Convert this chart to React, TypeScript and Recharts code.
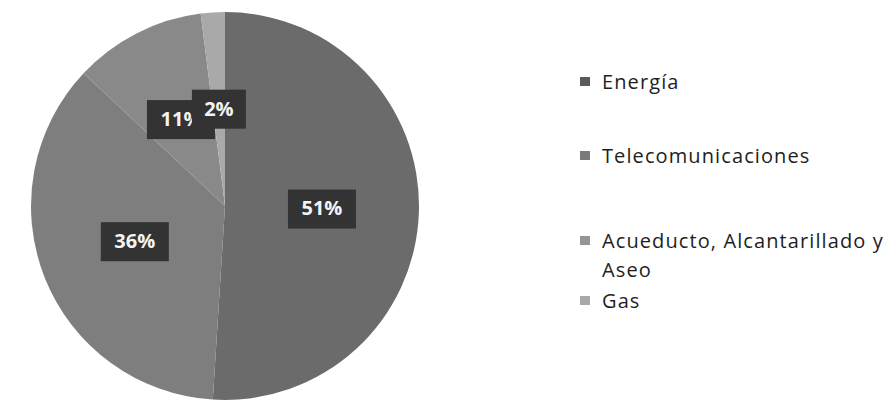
import React from 'react';
import { PieChart, Pie, Cell, Legend } from 'recharts';

// categorías y porcentajes
const categories = ['Energía', 'Telecomunicaciones', 'Acueducto, Alcantarillado y Aseo', 'Gas'];
const shares = [51, 36, 11, 2];
const fills = ['#6b6b6b', '#7e7e7e', '#898989', '#a9a9a9'];
const legendSwatch = ['#5a5a5a', '#7a7a7a', '#959595', '#a9a9a9'];

const data = categories.map((name, i) => ({ name, value: shares[i] }));

const RAD = Math.PI / 180;

const renderLabel = (props: any) => {
  const { cx, cy, midAngle, outerRadius, value } = props;
  const r = outerRadius * 0.5;
  const x = cx + r * Math.cos(-midAngle * RAD);
  const y = cy + r * Math.sin(-midAngle * RAD);
  const text = `${value}%`;
  const w = 26 + 14 * text.length;
  const h = 39;
  return (
    <g>
      <rect x={x - w / 2} y={y - h / 2} width={w} height={h} fill="#333333" />
      <text
        x={x}
        y={y + 1}
        fill="#f4f4f4"
        textAnchor="middle"
        dominantBaseline="middle"
        fontFamily="'Open Sans', sans-serif"
        fontWeight={700}
        fontSize={20}
      >
        {text}
      </text>
    </g>
  );
};

// separación vertical de cada entrada de la leyenda
const legendGaps = [0, 45, 56, 2];

const renderLegend = () => (
  <div
    style={{
      fontFamily: "'Open Sans', sans-serif",
      fontSize: 20,
      letterSpacing: 1.1,
      color: '#1e1e1e',
      lineHeight: '29px',
      width: 314,
    }}
  >
    {categories.map((c, i) => (
      <div key={c} style={{ marginTop: legendGaps[i], display: 'flex', alignItems: 'flex-start' }}>
        <span
          style={{
            display: 'inline-block',
            width: 10,
            height: 9,
            background: legendSwatch[i],
            marginTop: 10,
            marginRight: 12,
            flex: 'none',
          }}
        />
        <span style={{ width: 292 }}>{c}</span>
      </div>
    ))}
  </div>
);

export default function App() {
  return (
    <div style={{ width: 894, height: 402, background: '#fff' }}>
      <style>{`body{margin:0}`}</style>
      <PieChart width={894} height={402} margin={{ top: 0, right: 0, bottom: 0, left: 0 }}>
        <Pie
          data={data}
          dataKey="value"
          nameKey="name"
          cx={225}
          cy={206}
          outerRadius={194}
          startAngle={90}
          endAngle={-270}
          stroke="none"
          labelLine={false}
          label={renderLabel}
          isAnimationActive={false}
        >
          {data.map((d, i) => (
            <Cell key={d.name} fill={fills[i]} />
          ))}
        </Pie>
        <Legend
          content={renderLegend}
          wrapperStyle={{ position: 'absolute', left: 580, top: 67, width: 314 }}
        />
      </PieChart>
    </div>
  );
}
